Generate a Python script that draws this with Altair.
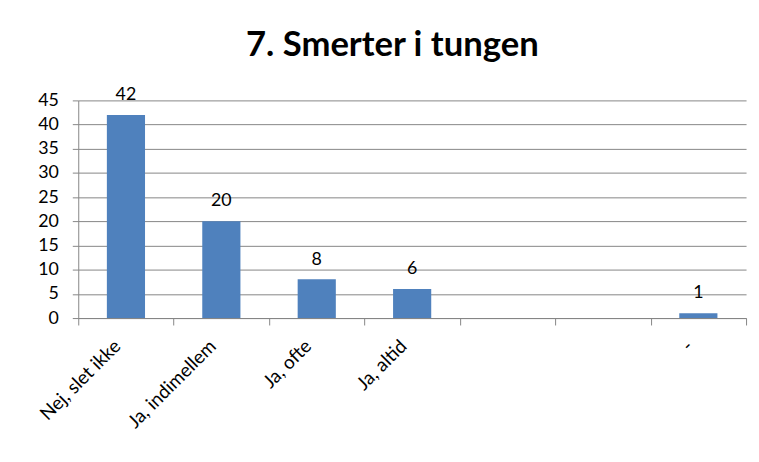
import altair as alt
import pandas as pd

categories = ["Nej, slet ikke", "Ja, indimellem", "Ja, ofte", "Ja, altid", " ", "  ", "-"]
values = [42, 20, 8, 6, None, None, 1]
y_ticks = [0, 5, 10, 15, 20, 25, 30, 35, 40, 45]

df = pd.DataFrame({"cat": categories, "val": values})

FONT = "Lato"

x_enc = alt.X(
    "cat:N",
    sort=categories,
    scale=alt.Scale(domain=categories, paddingInner=0, paddingOuter=0),
    axis=alt.Axis(
        title=None,
        labelAngle=-45,
        labelAlign="right",
        labelBaseline="middle",
        labelFont=FONT,
        labelFontSize=19,
        labelColor="#000000",
        labelPadding=18,
        labelOffset=-9,
        labelOverlap=False,
        labelLimit=300,
        tickBand="extent",
        tickSize=7,
        tickColor="#868686",
        domainColor="#868686",
        grid=False,
    ),
)

y_enc = alt.Y(
    "val:Q",
    scale=alt.Scale(domain=[0, 45], nice=False),
    axis=alt.Axis(
        title=None,
        values=y_ticks,
        labelFont=FONT,
        labelFontSize=18,
        labelColor="#000000",
        labelPadding=14,
        labelOverlap=False,
        tickSize=6,
        tickColor="#868686",
        domainColor="#868686",
        gridColor="#868686",
        grid=True,
    ),
)

base = alt.Chart(df)

bars = base.mark_bar(color="#4F81BD", width=alt.RelativeBandSize(0.4)).encode(x=x_enc, y=y_enc)

labels = base.mark_text(
    baseline="bottom", dy=-11, font=FONT, fontSize=18, color="#000000"
).encode(x=x_enc, y=y_enc, text="val:Q")

chart = (
    alt.layer(bars, labels)
    .properties(
        width=675,
        height=220,
        padding={"left": 71, "top": 91, "right": 5, "bottom": 135},
        autosize=alt.AutoSizeParams(type="none"),
        title=alt.TitleParams(
            "7. Smerter i tungen",
            font=FONT,
            fontSize=35,
            fontWeight="bold",
            color="#000000",
            anchor="middle",
            dx=-20,
            offset=24,
        ),
        background="white",
    )
    .configure_view(stroke=None)
)

chart.save("out.html", embed_options={"renderer": "svg", "actions": False})
